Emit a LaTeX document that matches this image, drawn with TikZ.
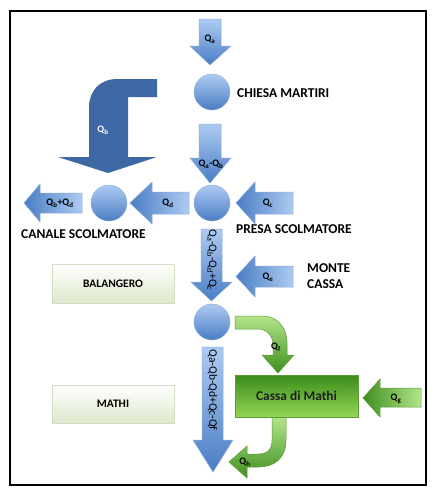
\documentclass[tikz,border=0pt]{standalone}
\usepackage{fontspec}
\setmainfont{Carlito}
\definecolor{bl1}{HTML}{ADCBF2}
\definecolor{bl2}{HTML}{4A7DC4}
\definecolor{blline}{HTML}{8DAEDC}
\definecolor{bdark}{HTML}{3E68A3}
\definecolor{gr1}{HTML}{B2E68A}
\definecolor{gr2}{HTML}{3F8F1F}
\definecolor{grline}{HTML}{5E9A3A}
\definecolor{gbox1}{HTML}{3A8C1C}
\definecolor{gbox2}{HTML}{95D653}
\definecolor{pale}{HTML}{DDE8CC}
\definecolor{paleline}{HTML}{D2DDC3}
\begin{document}
\begin{tikzpicture}[x=1pt,y=-1pt,
  ball/.style={circle, minimum size=36pt, inner sep=0pt, top color=bl1, bottom color=bl2, draw=blline, line width=0.4pt},
  varrow/.style={top color=bl1, bottom color=bl2, draw=blline, line width=0.5pt},
  harrow/.style={left color=bl2, right color=bl1, draw=blline, line width=0.5pt},
  gflow/.style={top color=gr1, bottom color=gr2, draw=grline, line width=0.5pt},
  lbl/.style={font=\bfseries\fontsize{13.5}{16}\selectfont, inner sep=0pt, text=black},
  ql/.style={font=\bfseries\fontsize{10}{11}\selectfont, inner sep=0pt, text=black},
  rottext/.style={font=\fontsize{11.5}{12}\selectfont, inner sep=0pt, text=black, rotate=-90},
  pbox/.style={minimum width=122pt, minimum height=39pt, inner sep=0pt, top color=white, bottom color=pale, draw=paleline, line width=0.4pt, font=\bfseries\fontsize{11.5}{13}\selectfont}
]
\useasboundingbox (0,0) rectangle (433,498);
\fill[white] (0,0) rectangle (433,498);
\draw[line width=1.1pt] (10,11) rectangle (426,485);

% bent arrow Qb
\fill[bdark] (157,79) -- (157,97) -- (128,97) -- (128,157) -- (157,157) -- (108,173) -- (58,157) -- (89,157) -- (89,107) .. controls (89,91) and (100,79) .. (117,79) -- cycle;
\node[ql, text=white] (lqb) at (103,130) {Q\textsubscript{b}};

% vertical blue arrows
\path[varrow] (199,19) -- (221,19) -- (221,46) -- (231,46) -- (210,65) -- (190,46) -- (199,46) -- cycle;
\path[varrow] (199,124) -- (221,124) -- (221,158) -- (231,158) -- (210,183) -- (190,158) -- (199,158) -- cycle;
\path[varrow] (201,229) -- (222,229) -- (222,282) -- (232,282) -- (211.5,301) -- (191,282) -- (201,282) -- cycle;
\path[varrow] (202,347) -- (223,347) -- (223,440) -- (233,440) -- (213,472) -- (193,440) -- (202,440) -- cycle;

% horizontal blue arrows
\path[harrow] (293,192) -- (293,214) -- (255,214) -- (255,224) -- (236,203) -- (255,182) -- (255,192) -- cycle;
\path[harrow] (189,192) -- (189,214) -- (152,214) -- (152,224) -- (130,203) -- (152,182) -- (152,192) -- cycle;
\path[harrow] (82,193) -- (82,213) -- (40,213) -- (40,222) -- (24,203) -- (40,184) -- (40,193) -- cycle;
\path[harrow] (293,266) -- (293,287) -- (255,287) -- (255,297) -- (236,276.5) -- (255,256) -- (255,266) -- cycle;

% circles
\node[ball] (chiesa) at (212,92) {};
\node[ball] (presa) at (212,203) {};
\node[ball] (canale) at (109,203) {};
\node[ball] (nodo) at (212,322) {};

% green arrows
\path[gflow] (235,316) -- (262,316) .. controls (278,316) and (287,328) .. (287,343) -- (287,355) -- (294,355) -- (278,373) -- (262,355) -- (273,355) -- (273,345) .. controls (273,335) and (266,329) .. (258,329) -- (235,329) -- cycle;
\path[gflow] (272,417) -- (286,417) -- (286,440) .. controls (286,458) and (275,467) .. (258,467) -- (247,467) -- (247,478) -- (229,462) -- (247,446) -- (247,454) -- (258,454) .. controls (267,454) and (272,450) .. (272,440) -- cycle;
\path[left color=gr2, right color=gr1, draw=grline, line width=0.5pt] (421,388) -- (421,407) -- (380,407) -- (380,417) -- (363,398) -- (380,379) -- (380,388) -- cycle;

% boxes
\node[pbox] (bal) at (113,283.5) {BALANGERO};
\node[pbox, minimum height=38pt] (mathi) at (113,404) {MATHI};
\node[minimum width=123pt, minimum height=42pt, inner sep=0pt, top color=gbox1, bottom color=gbox2, draw=grline, line width=0.5pt, font=\bfseries\fontsize{13.4}{15}\selectfont, text=black!88] (cassa) at (296.5,396) {Cassa di Mathi};

% place labels
\node[lbl, anchor=west] (tchiesa) at (237,93) {CHIESA MARTIRI};
\node[lbl, anchor=west] (tpresa) at (236,229) {PRESA SCOLMATORE};
\node[lbl, anchor=west] (tcanale) at (21,234) {CANALE SCOLMATORE};
\node[lbl, anchor=west, align=left] (tmonte) at (307,276) {MONTE\\CASSA};

% flow labels
\node[ql] (lqa) at (210,39) {Q\textsubscript{a}};
\node[ql] (lqab) at (211,164) {Q\textsubscript{a}-Q\textsubscript{b}};
\node[ql] (lqc) at (268,203) {Q\textsubscript{c}};
\node[ql] (lqd) at (168,203) {Q\textsubscript{d}};
\node[ql] (lqbd) at (60,203) {Q\textsubscript{b}+Q\textsubscript{d}};
\node[ql] (lqe) at (268,277) {Q\textsubscript{e}};
\node[ql] (lqf) at (276,347) {Q\textsubscript{f}};
\node[ql] (lqg) at (396,399) {Q\textsubscript{g}};
\node[ql] (lqh) at (245,462) {Q\textsubscript{h}};
\node[rottext] (t1) at (212,260) {Q\textsubscript{a}-Q\textsubscript{b}-Q\textsubscript{d}+Q\textsubscript{c}};
\node[rottext] (t2) at (212.5,390) {Qa-Qb-Qd+Qc-Qf};
\end{tikzpicture}
\end{document}
